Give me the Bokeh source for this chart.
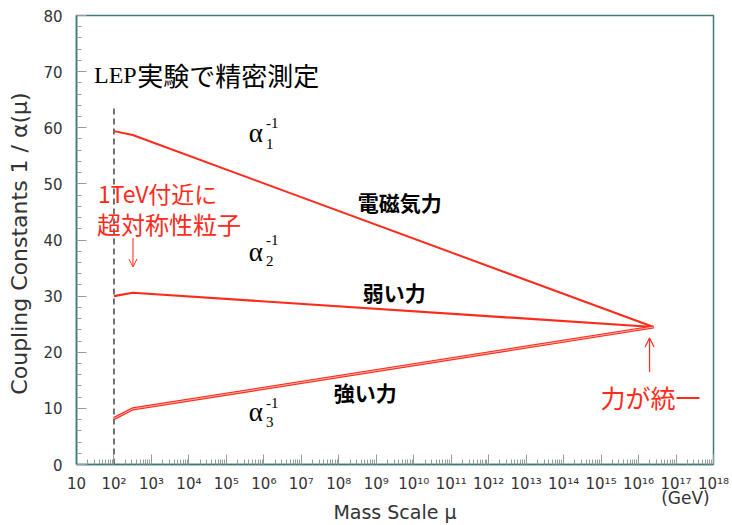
from bokeh.plotting import figure
from bokeh.models import (Range1d, FixedTicker, CustomJSTickFormatter, Label,
                          Arrow, OpenHead, LogAxis)
from bokeh.embed import file_html
from bokeh.resources import INLINE

# ---- data ----
mass_scale = [1e2, 10 ** 2.5, 10 ** 16.4]          # GeV
alpha1_inv = [59.4, 58.7, 24.5]                     # 1/alpha_1 (電磁気力)
alpha2_inv = [30.0, 30.6, 24.5]                     # 1/alpha_2 (弱い力)
alpha3_inv = [8.2, 9.9, 24.5]                       # 1/alpha_3 (強い力)

lep_scale = [1e2, 1e2]
lep_span = [0.0, 63.8]

x_tick_exponents = list(range(1, 19))
x_tick_labels = ["10", "10²", "10³", "10⁴", "10⁵", "10⁶", "10⁷", "10⁸", "10⁹",
                 "10¹⁰", "10¹¹", "10¹²", "10¹³", "10¹⁴", "10¹⁵", "10¹⁶",
                 "10¹⁷", "10¹⁸"]
y_ticks = [0, 10, 20, 30, 40, 50, 60, 70, 80]
unit_label = "(GeV)"
unit_label_pos = 10 ** 17.25

RED = "#ff2a1a"
FRAME = "#3f7a78"
TICK = "#9a9a9a"
SANS = "DejaVu Sans"
CJK = "Noto Sans CJK JP"
SERIF = "Liberation Serif"

p = figure(width=732, height=525, x_axis_type="log",
           x_range=Range1d(10, 1e18), y_range=Range1d(0, 80),
           output_backend="svg", toolbar_location=None,
           min_border_left=76, min_border_right=19,
           min_border_top=15, min_border_bottom=61)
p.background_fill_color = "white"
p.border_fill_color = "white"
p.outline_line_color = FRAME
p.outline_line_width = 1.5
p.xgrid.visible = False
p.ygrid.visible = False

# x axis
major_x = [10.0 ** e for e in x_tick_exponents]
minor_x = [k * 10.0 ** e for e in range(1, 18) for k in range(2, 10)]
p.xaxis.ticker = FixedTicker(ticks=major_x, minor_ticks=minor_x)
p.xaxis.formatter = CustomJSTickFormatter(
    args=dict(labels=x_tick_labels),
    code="return labels[Math.round(Math.log10(tick)) - 1];")

# y axis
minor_y = [v for v in range(0, 81, 2) if v % 10 != 0]
p.yaxis.ticker = FixedTicker(ticks=y_ticks, minor_ticks=minor_y)
p.yaxis.axis_label = "Coupling Constants  1 / α(μ)"

for ax in (p.xaxis[0], p.yaxis[0]):
    ax.axis_line_color = FRAME
    ax.axis_line_width = 1.5
    ax.major_tick_line_color = TICK
    ax.minor_tick_line_color = TICK
    ax.major_tick_in = 10
    ax.major_tick_out = 0
    ax.minor_tick_in = 5
    ax.minor_tick_out = 0
    ax.major_label_text_font = SANS
    ax.major_label_text_font_size = "15px"
    ax.major_label_text_color = "#333333"
    ax.axis_label_text_font = SANS
    ax.axis_label_text_font_style = "normal"
    ax.axis_label_text_color = "#333333"

p.yaxis.axis_label_text_font_size = "22px"
p.yaxis.major_label_standoff = 14
p.yaxis.axis_label_standoff = 8
p.xaxis.major_label_standoff = 10

# label-only axis carrying the unit "(GeV)" under the right end
unit_axis = LogAxis(ticker=FixedTicker(ticks=[unit_label_pos]),
                    formatter=CustomJSTickFormatter(args=dict(t=unit_label),
                                                    code="return t;"),
                    axis_line_color=None, major_tick_line_color=None,
                    minor_tick_line_color=None,
                    major_tick_in=0, major_tick_out=0,
                    minor_tick_in=0, minor_tick_out=0,
                    major_label_standoff=-8,
                    major_label_text_font=SANS,
                    major_label_text_font_size="17px",
                    major_label_text_color="#333333")
p.add_layout(unit_axis, "below")

# label-only axis carrying the axis title
title_axis = LogAxis(ticker=FixedTicker(ticks=[]), axis_label="Mass Scale μ",
                     axis_line_color=None, major_tick_line_color=None,
                     minor_tick_line_color=None,
                     major_tick_in=0, major_tick_out=0,
                     minor_tick_in=0, minor_tick_out=0,
                     axis_label_text_font=SANS,
                     axis_label_text_font_size="19px",
                     axis_label_text_font_style="normal",
                     axis_label_text_color="#333333",
                     axis_label_standoff=-10,
                     major_label_text_font_size="0px")
p.add_layout(title_axis, "below")

# LEP dashed line
p.line(lep_scale, lep_span, line_color="#444444", line_width=1.5,
       line_dash="6 4")

# coupling lines
p.line(mass_scale, alpha1_inv, line_color=RED, line_width=2)
p.line(mass_scale, alpha2_inv, line_color=RED, line_width=2.2)
p.line(mass_scale, alpha3_inv, line_color=RED, line_width=3.2)
p.line(mass_scale, alpha3_inv, line_color="#ffd6d0", line_width=0.8)


def lbl(x, y, text, font=SANS, size="20px", color="black", style="normal"):
    p.add_layout(Label(x=x, y=y, text=text, text_font=font,
                       text_font_size=size, text_color=color,
                       text_font_style=style, text_align="left",
                       text_baseline="middle"))


# LEP annotation
lbl(10 ** 1.467, 69.4, "LEP", font=SERIF, size="24px")
lbl(10 ** 2.62, 69.4, "実験で精密測定", font=CJK, size="26px")

# alpha labels
for (ya, ysup, ysub, sub) in [(59.15, 60.85, 57.1, "1"),
                              (37.95, 40.0, 36.17, "2"),
                              (9.27, 10.96, 7.57, "3")]:
    lbl(10 ** 5.6, ya, "α", font=SERIF, size="27px")
    lbl(10 ** 6.06, ysup, "-1", font=SERIF, size="15px")
    lbl(10 ** 6.06, ysub, sub, font=SERIF, size="15px")

# force names
lbl(10 ** 8.507, 46.77, "電磁気力", font=CJK, size="21px", style="bold")
lbl(10 ** 8.64, 30.73, "弱い力", font=CJK, size="21px", style="bold")
lbl(10 ** 7.867, 12.92, "強い力", font=CJK, size="21px", style="bold")
lbl(10 ** 14.987, 12.03, "力が統一", font=CJK, size="25px", color=RED)

# SUSY annotation
lbl(10 ** 1.573, 48.3, "1TeV付近に", font=CJK, size="23px", color=RED)
lbl(10 ** 1.55, 42.94, "超対称性粒子", font=CJK, size="24px", color=RED)

p.add_layout(Arrow(end=OpenHead(size=8, line_color=RED, line_width=1),
                   x_start=10 ** 2.507, y_start=40.36,
                   x_end=10 ** 2.507, y_end=35.19,
                   line_color=RED, line_width=1))
p.add_layout(Arrow(end=OpenHead(size=9, line_color=RED, line_width=1.2),
                   x_start=10 ** 16.293, y_start=16.48,
                   x_end=10 ** 16.293, y_end=22.54,
                   line_color=RED, line_width=1.2))

open("out.html", "w").write(file_html(p, INLINE))
